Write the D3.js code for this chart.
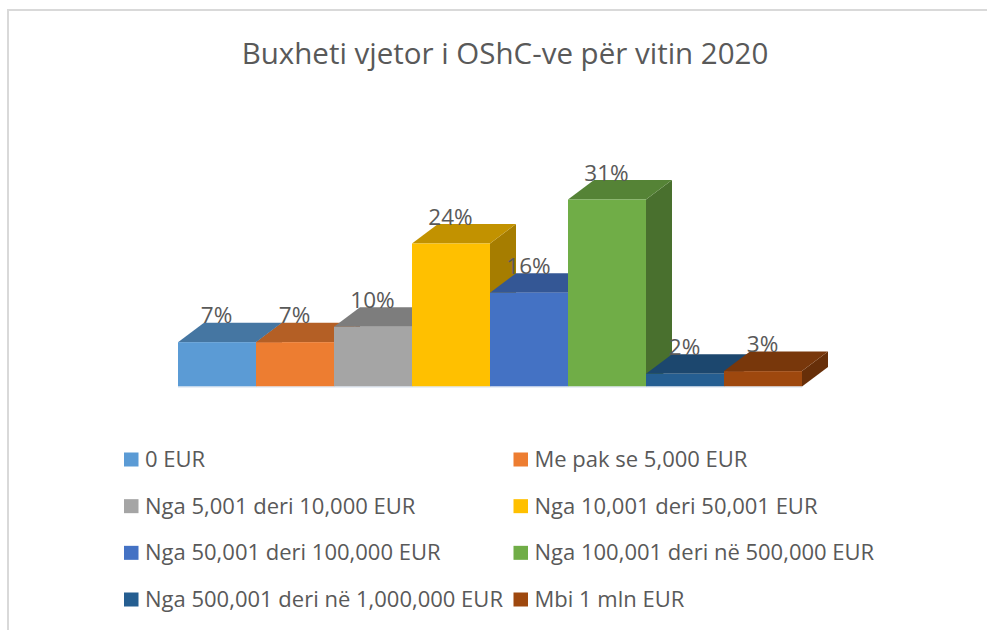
<!DOCTYPE html>
<html>
<head>
<meta charset="utf-8">
<script src="https://cdn.jsdelivr.net/npm/d3@7"></script>
<style>
html, body { margin: 0; padding: 0; background: #fff; }
svg { display: block; }
text { font-family: "Open Sans", sans-serif; fill: #595959; }
</style>
</head>
<body>
<div id="content"></div>
<script>
var chartTitle = "Buxheti vjetor i OShC-ve për vitin 2020";
var categories = [
    "0 EUR",
    "Me pak se 5,000 EUR",
    "Nga 5,001 deri 10,000 EUR",
    "Nga 10,001 deri 50,001 EUR",
    "Nga 50,001 deri 100,000 EUR",
    "Nga 100,001 deri në 500,000 EUR",
    "Nga 500,001 deri në 1,000,000 EUR",
    "Mbi 1 mln EUR"
];
// shares, labels round them
var values = [0.0735, 0.0735, 0.099, 0.237, 0.1555, 0.31, 0.021, 0.0255];
var colors = ["#5B9BD5", "#ED7D31", "#A5A5A5", "#FFC000", "#4472C4", "#70AD47", "#255E91", "#9E480E"];

var width = 987;
var height = 630;

var depthX = 26;
var depthY = 19.5;

var svg = d3.select("#content").append("svg")
    .attr("width", width)
    .attr("height", height);

// frame
svg.append("path")
    .attr("d", "M8,630V10H987")
    .attr("fill", "none")
    .attr("stroke", "#d9d9d9")
    .attr("stroke-width", 2);

svg.append("text")
    .attr("x", 505)
    .attr("y", 64)
    .attr("text-anchor", "middle")
    .style("font-size", "29.5px")
    .text(chartTitle);

var x = d3.scaleBand()
    .domain(categories)
    .range([178, 802]);

var y = d3.scaleLinear()
    .domain([0, 0.31])
    .range([386.5, 199.5]);

function shade(c, k) {
    var r = d3.rgb(c);
    return d3.rgb(r.r * k, r.g * k, r.b * k).formatHex();
}

var rows = categories.map(function(c, i) {
    return { name: c, value: values[i], color: colors[i] };
});

var bars = svg.append("g").selectAll("g")
    .data(rows)
    .enter()
    .append("g");

// right side
bars.append("path")
    .attr("fill", function(d) { return shade(d.color, 0.65); })
    .attr("d", function(d) {
        var x1 = x(d.name) + x.bandwidth();
        return d3.line()([
            [x1, y(d.value)],
            [x1 + depthX, y(d.value) - depthY],
            [x1 + depthX, y(0) - depthY],
            [x1, y(0)]
        ]) + "Z";
    });

// top
bars.append("path")
    .attr("fill", function(d) { return shade(d.color, 0.76); })
    .attr("d", function(d) {
        var x0 = x(d.name);
        var x1 = x0 + x.bandwidth();
        return d3.line()([
            [x0, y(d.value)],
            [x0 + depthX, y(d.value) - depthY],
            [x1 + depthX, y(d.value) - depthY],
            [x1, y(d.value)]
        ]) + "Z";
    });

// front
bars.append("rect")
    .attr("x", function(d) { return x(d.name); })
    .attr("y", function(d) { return y(d.value); })
    .attr("width", x.bandwidth())
    .attr("height", function(d) { return y(0) - y(d.value); })
    .attr("fill", function(d) { return d.color; });

// pale floor edge
svg.append("line")
    .attr("x1", x.range()[0])
    .attr("x2", x.range()[1])
    .attr("y1", y(0) + 0.5)
    .attr("y2", y(0) + 0.5)
    .attr("stroke", "#d6e0ee");

var pct = d3.format(".0%");

svg.append("g").selectAll("text")
    .data(rows)
    .enter()
    .append("text")
    .attr("x", function(d) { return x(d.name) + x.bandwidth() / 2 - 0.5; })
    .attr("y", function(d) { return y(d.value) - depthY + 0.5; })
    .attr("text-anchor", "middle")
    .style("font-size", "22.5px")
    .text(function(d) { return pct(d.value); });

// legend, two columns
var legendX = [124, 513.5];
var legendY = d3.scalePoint()
    .domain([0, 1, 2, 3])
    .range([459.5, 599.5]);

var legend = svg.append("g").selectAll("g")
    .data(rows)
    .enter()
    .append("g")
    .attr("transform", function(d, i) {
        return "translate(" + legendX[i % 2] + "," + legendY(Math.floor(i / 2)) + ")";
    });

legend.append("rect")
    .attr("y", -7)
    .attr("width", 14.5)
    .attr("height", 14)
    .attr("fill", function(d) { return d.color; });

legend.append("text")
    .attr("x", 21)
    .attr("y", 7.5)
    .style("font-size", "22px")
    .text(function(d) { return d.name; });
</script>
</body>
</html>
